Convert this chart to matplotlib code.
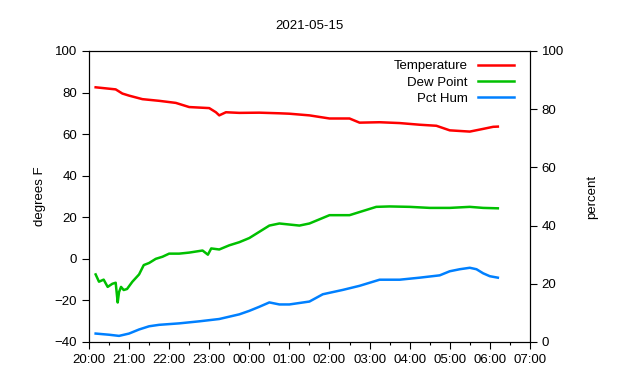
import matplotlib
matplotlib.use("Agg")
import matplotlib.pyplot as plt
import matplotlib.dates as mdates
import pandas as pd

plt.rcParams['font.family'] = ['Liberation Sans', 'DejaVu Sans']
plt.rcParams['font.size'] = 9.5

# times of readings (20:xx on 05-15, rest past midnight)
temp_times = ["20:10", "20:25", "20:40", "20:50", "21:00", "21:20", "21:45", "22:10",
              "22:30", "23:00", "23:10", "23:15", "23:25", "23:45", "00:15", "00:45",
              "01:00", "01:30", "02:00", "02:30", "02:45", "03:15", "03:45", "04:15",
              "04:40", "05:00", "05:30", "05:50", "06:05", "06:12"]
temp_vals = [82.5, 82.0, 81.5, 79.5, 78.5, 76.8, 76.0, 75.0,
             73.0, 72.5, 70.5, 69.0, 70.5, 70.2, 70.3, 70.0,
             69.8, 69.0, 67.5, 67.5, 65.5, 65.7, 65.3, 64.5,
             64.0, 61.8, 61.2, 62.5, 63.5, 63.6]

dew_times = ["20:10", "20:15", "20:22", "20:28", "20:35", "20:40", "20:43", "20:45",
             "20:48", "20:52", "20:57", "21:05", "21:15", "21:22", "21:30", "21:40",
             "21:50", "22:00", "22:15", "22:30", "22:50", "22:58", "23:03", "23:15",
             "23:30", "23:45", "00:00", "00:15", "00:30", "00:45", "01:00", "01:15",
             "01:30", "01:45", "02:00", "02:30", "02:50", "03:10", "03:30", "04:00",
             "04:30", "05:00", "05:30", "05:50", "06:12"]
dew_vals = [-7.5, -11.0, -10.0, -13.5, -12.0, -11.5, -21.0, -16.0,
            -13.5, -15.0, -14.5, -11.0, -7.5, -3.0, -2.0, 0.0,
            1.0, 2.5, 2.5, 3.0, 4.0, 2.0, 5.0, 4.5,
            6.5, 8.0, 10.0, 13.0, 16.0, 17.0, 16.5, 16.0,
            17.0, 19.0, 21.0, 21.0, 23.0, 25.0, 25.2, 25.0,
            24.5, 24.5, 25.0, 24.5, 24.3]

hum_times = ["20:10", "20:30", "20:45", "21:00", "21:15", "21:30", "21:45", "22:15",
             "22:45", "23:15", "23:45", "00:00", "00:15", "00:30", "00:45", "01:00",
             "01:30", "01:50", "02:20", "02:45", "03:15", "03:45", "04:15", "04:45",
             "05:00", "05:15", "05:30", "05:40", "05:50", "06:00", "06:12"]
hum_vals = [2.9, 2.5, 2.1, 2.9, 4.3, 5.4, 5.9, 6.4,
            7.1, 7.9, 9.5, 10.7, 12.1, 13.6, 12.9, 12.9,
            13.9, 16.4, 17.9, 19.3, 21.4, 21.4, 22.1, 22.9,
            24.3, 25.0, 25.5, 25.0, 23.6, 22.6, 22.1]


def to_dt(times):
    out = []
    for t in times:
        day = "2021-05-15" if t.startswith("2") else "2021-05-16"
        out.append(pd.Timestamp(day + " " + t))
    return out


fig = plt.figure(figsize=(6.4, 3.8), dpi=100)
ax = fig.add_axes([0.139, 0.1, 0.689, 0.766])
ax2 = ax.twinx()

l1, = ax.plot(to_dt(temp_times), temp_vals, color="#ff0000", lw=1.8, label="Temperature")
l2, = ax.plot(to_dt(dew_times), dew_vals, color="#00c000", lw=1.8, label="Dew Point")
l3, = ax2.plot(to_dt(hum_times), hum_vals, color="#0080ff", lw=1.8, label="Pct Hum")

ax.set_ylim(-40, 100)
ax.set_yticks(range(-40, 101, 20))
ax2.set_ylim(0, 100)
ax2.set_yticks(range(0, 101, 20))
ax.set_xlim(pd.Timestamp("2021-05-15 20:00"), pd.Timestamp("2021-05-16 07:00"))
ax.xaxis.set_major_locator(mdates.HourLocator())
ax.xaxis.set_minor_locator(mdates.MinuteLocator(byminute=[30]))
ax.xaxis.set_major_formatter(mdates.DateFormatter("%H:%M"))

for a in (ax, ax2):
    a.tick_params(which="major", direction="out", length=5, width=0.8)
    a.tick_params(which="minor", direction="out", length=2.5, width=0.8)
    for s in a.spines.values():
        s.set_linewidth(0.8)

ax.set_ylabel("degrees F", labelpad=6)
ax2.set_ylabel("percent", labelpad=16)
ax.set_title("2021-05-15", pad=16, fontsize=9.5)

ax2.legend(handles=[l1, l2, l3], loc="upper right", bbox_to_anchor=(0.985, 1.0),
           frameon=False, markerfirst=False, handlelength=2.7, labelspacing=0.3,
           borderaxespad=0.3, handletextpad=0.8)

fig.savefig("out.png", dpi=100)
